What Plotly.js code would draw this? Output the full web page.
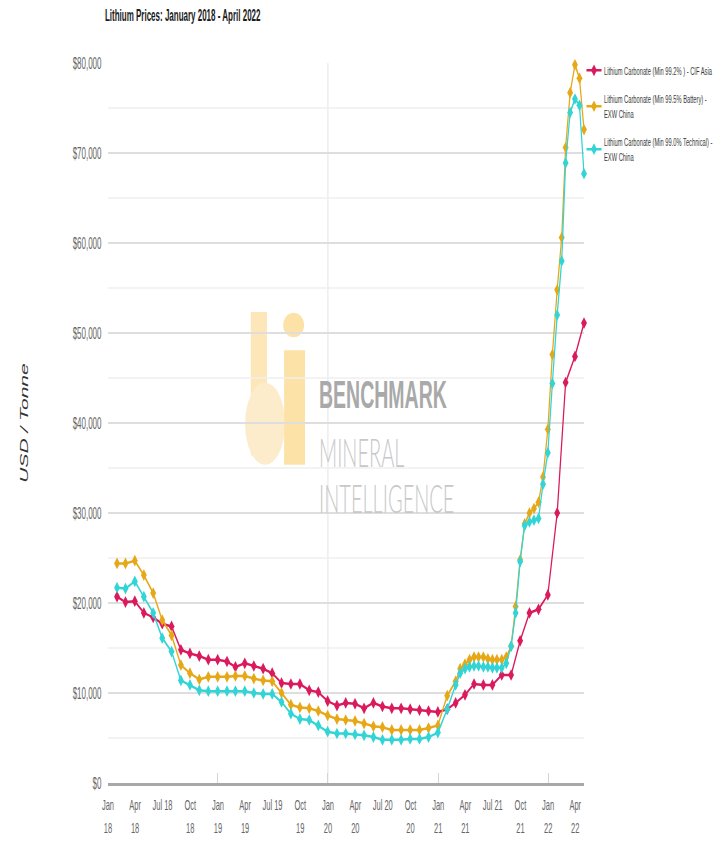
<!DOCTYPE html>
<html>
<head>
<meta charset="utf-8">
<script src="https://cdn.plot.ly/plotly-3.0.1.min.js"></script>
<style>
  html, body { margin: 0; padding: 0; background: #ffffff; overflow: hidden; }
  #wrap { width: 1444px; height: 848px; transform: scaleX(0.5); transform-origin: 0 0; }
</style>
</head>
<body>
<div id="wrap"><div id="chart"></div></div>
<script>
// ---------- DATA ----------
const TITLE = 'Lithium Prices: January 2018 - April 2022';
const Y_TITLE = 'USD / Tonne';
const SERIES_NAMES = [
  'Lithium Carbonate (Min 99.2% ) - CIF Asia',
  'Lithium Carbonate (Min 99.5% Battery) -<br>EXW China',
  'Lithium Carbonate (Min 99.0% Technical) -<br>EXW China'
];

// CIF Asia: monthly, end of month
const CIF_DATES = [
  '2018-01-31','2018-02-28','2018-03-31','2018-04-30','2018-05-31','2018-06-30','2018-07-31','2018-08-31','2018-09-30','2018-10-31','2018-11-30','2018-12-31',
  '2019-01-31','2019-02-28','2019-03-31','2019-04-30','2019-05-31','2019-06-30','2019-07-31','2019-08-31','2019-09-30','2019-10-31','2019-11-30','2019-12-31',
  '2020-01-31','2020-02-29','2020-03-31','2020-04-30','2020-05-31','2020-06-30','2020-07-31','2020-08-31','2020-09-30','2020-10-31','2020-11-30','2020-12-31',
  '2021-01-31','2021-02-28','2021-03-31','2021-04-30','2021-05-31','2021-06-30','2021-07-31','2021-08-31','2021-09-30','2021-10-31','2021-11-30','2021-12-31',
  '2022-01-31','2022-02-28','2022-03-31','2022-04-30'
];
const CIF_ASIA = [
  20700,20100,20200,18900,18400,17700,17400,14800,14400,14100,13700,13700,
  13500,12900,13300,13000,12700,12200,11100,11000,11000,10300,10100,9100,
  8600,8900,8800,8300,8900,8500,8300,8300,8200,8100,8000,7900,
  8200,8900,9800,11000,10900,10900,12000,12000,15800,18900,19300,20900,
  30000,44500,47400,51100
];

// EXW China: monthly to Feb 2021, then twice a month
const EXW_DATES = [
  '2018-01-31','2018-02-28','2018-03-31','2018-04-30','2018-05-31','2018-06-30','2018-07-31','2018-08-31','2018-09-30','2018-10-31','2018-11-30','2018-12-31',
  '2019-01-31','2019-02-28','2019-03-31','2019-04-30','2019-05-31','2019-06-30','2019-07-31','2019-08-31','2019-09-30','2019-10-31','2019-11-30','2019-12-31',
  '2020-01-31','2020-02-29','2020-03-31','2020-04-30','2020-05-31','2020-06-30','2020-07-31','2020-08-31','2020-09-30','2020-10-31','2020-11-30','2020-12-31',
  '2021-01-31','2021-02-28',
  '2021-03-15','2021-03-31','2021-04-15','2021-04-30','2021-05-15','2021-05-31','2021-06-15','2021-06-30',
  '2021-07-15','2021-07-31','2021-08-15','2021-08-31','2021-09-15','2021-09-30','2021-10-15','2021-10-31',
  '2021-11-15','2021-11-30','2021-12-15','2021-12-31','2022-01-15','2022-01-31','2022-02-15','2022-02-28',
  '2022-03-15','2022-03-31','2022-04-15','2022-04-30'
];
const BATTERY = [
  24400,24400,24700,23100,21100,18100,16400,13100,12200,11500,11800,11800,
  11800,11900,11900,11600,11400,11300,10000,8700,8400,8300,8000,7500,
  7100,7000,6900,6600,6300,6200,5900,5900,5900,5900,6100,6400,
  9700,11300,
  12700,13200,13700,14000,14000,14000,13800,13700,
  13700,13700,14000,15200,19600,24800,28800,30000,
  30500,31200,34000,39300,47600,54800,60600,70600,
  76700,79800,78300,72600
];
const TECHNICAL = [
  21700,21600,22400,20700,18900,16100,14600,11400,10900,10300,10200,10200,
  10200,10200,10200,10000,9900,9900,9000,7700,7100,7000,6400,5700,
  5500,5500,5400,5300,5100,4800,4800,4800,4900,4900,5100,5600,
  8200,10900,
  12200,12700,12900,13000,13000,12900,12900,12800,
  12800,12800,13300,15200,18900,24600,28600,29000,
  29200,29400,33200,36700,44400,52000,58000,68900,
  74500,76000,75300,67700
];

const X_RANGE = ['2018-01-01', '2022-04-30'];
const QUARTER_TICKS = [
  '2018-01-01','2018-04-01','2018-07-01','2018-10-01',
  '2019-01-01','2019-04-01','2019-07-01','2019-10-01',
  '2020-01-01','2020-04-01','2020-07-01','2020-10-01',
  '2021-01-01','2021-04-01','2021-07-01','2021-10-01',
  '2022-01-01','2022-04-01'
];
const TICK_MONTHS = ['Jan','Apr','Jul 18','Oct','Jan','Apr','Jul 19','Oct','Jan','Apr','Jul 20','Oct','Jan','Apr','Jul 21','Oct','Jan','Apr'];
const TICK_YEARS  = ['18','18','','18','19','19','','19','20','20','','20','21','21','','21','22','22'];
const YEAR_TICKS = ['2018-01-01','2019-01-01','2020-01-01','2021-01-01','2022-01-01'];
const HIGHLIGHT_DATE = '2020-01-01';

const COLORS = ['#d91a5c', '#e6a817', '#33d4d6'];
const WATERMARK = ['BENCHMARK', 'MINERAL', 'INTELLIGENCE'];

// ---------- CHART ----------
const FONT = 'Liberation Sans, Arial, sans-serif';
function series(x, y, name, color, group) {
  return {
    type: 'scatter', mode: 'lines+markers', x: x, y: y, name: name,
    legendgroup: group,
    line: { color: color, width: 2.5 },
    marker: { color: color, size: 9, symbol: 'diamond' },
    cliponaxis: false, hoverinfo: 'skip'
  };
}
const traces = [
  series(CIF_DATES, CIF_ASIA, SERIES_NAMES[0], COLORS[0], 'a'),
  series(EXW_DATES, BATTERY, SERIES_NAMES[1], COLORS[1], 'b'),
  series(EXW_DATES, TECHNICAL, SERIES_NAMES[2], COLORS[2], 'c'),
  { type: 'scatter', x: [], y: [], xaxis: 'x2', showlegend: false, hoverinfo: 'skip' },
  { type: 'scatter', x: [], y: [], xaxis: 'x3', showlegend: false, hoverinfo: 'skip' }
];

const tickFont = { family: FONT, size: 15, color: '#666666' };
const layout = {
  width: 1444, height: 848,
  margin: { l: 216, r: 276, t: 63, b: 65, autoexpand: false },
  paper_bgcolor: '#ffffff', plot_bgcolor: '#ffffff',
  font: { family: FONT, color: '#444444' },
  hovermode: false,
  title: {
    text: TITLE, xref: 'container', yref: 'container',
    x: 0.1454, xanchor: 'left', y: 0.982, yanchor: 'middle',
    font: { family: FONT, size: 16, weight: 'bold', color: '#1a1a1a' }
  },
  xaxis: {
    type: 'date', range: X_RANGE, tickmode: 'array',
    tickvals: QUARTER_TICKS, ticktext: TICK_MONTHS,
    ticks: '', showgrid: false, zeroline: false,
    showline: true, linecolor: '#a8a8a8', linewidth: 3,
    tickfont: tickFont, ticklabelstandoff: 6
  },
  xaxis2: {
    type: 'date', range: X_RANGE, overlaying: 'x', anchor: 'y', side: 'bottom',
    tickmode: 'array', tickvals: QUARTER_TICKS, ticktext: TICK_YEARS,
    ticks: '', showgrid: false, zeroline: false, showline: false,
    tickfont: tickFont, ticklabelstandoff: 34
  },
  xaxis3: {
    type: 'date', range: X_RANGE, overlaying: 'x', anchor: 'y', side: 'bottom',
    tickmode: 'array', tickvals: YEAR_TICKS, showticklabels: false,
    ticks: 'inside', ticklen: 10, tickwidth: 2, tickcolor: '#d4d4d4',
    showgrid: false, zeroline: false, showline: false
  },
  yaxis: {
    range: [0, 80000], dtick: 10000, tickprefix: '$', tickformat: ',d',
    showline: false, zeroline: false, ticks: '',
    gridcolor: '#dedede', gridwidth: 2,
    minor: { dtick: 5000, showgrid: true, gridcolor: '#efefef', gridwidth: 1.5 },
    tickfont: { family: FONT, size: 16, color: '#666666' },
    ticklabelstandoff: 12,
    title: { text: Y_TITLE, standoff: 82, font: { family: FONT, size: 21, style: 'italic', color: '#333333' } }
  },
  legend: {
    x: 1.0, xanchor: 'left', y: 1.01, yanchor: 'top',
    font: { family: FONT, size: 11.5, color: '#3a3a3a' },
    bgcolor: 'rgba(0,0,0,0)', tracegroupgap: 10, traceorder: 'grouped'
  },
  shapes: [
    { type: 'line', xref: 'x', yref: 'paper', x0: HIGHLIGHT_DATE, x1: HIGHLIGHT_DATE, y0: 0, y1: 1,
      line: { color: '#e4e4e4', width: 2 }, layer: 'below' },
    // faint logo of the watermark
    { type: 'rect', xref: 'paper', yref: 'paper', x0: 0.300, x1: 0.334, y0: 0.455, y1: 0.654,
      fillcolor: '#fde6b8', line: { width: 0 }, layer: 'below' },
    { type: 'circle', xref: 'paper', yref: 'paper', x0: 0.288, x1: 0.372, y0: 0.442, y1: 0.556,
      fillcolor: '#fdeccb', line: { width: 0 }, layer: 'below' },
    { type: 'circle', xref: 'paper', yref: 'paper', x0: 0.368, x1: 0.412, y0: 0.619, y1: 0.653,
      fillcolor: '#fde2a8', line: { width: 0 }, layer: 'below' },
    { type: 'rect', xref: 'paper', yref: 'paper', x0: 0.370, x1: 0.414, y0: 0.442, y1: 0.601,
      fillcolor: '#fde2a8', line: { width: 0 }, layer: 'below' }
  ],
  annotations: [
    { text: WATERMARK[0], xref: 'paper', yref: 'paper', x: 0.441, y: 0.539, xanchor: 'left', yanchor: 'middle',
      showarrow: false, font: { family: FONT, size: 39, weight: 'bold', color: '#a9a9a9' } },
    { text: WATERMARK[1], xref: 'paper', yref: 'paper', x: 0.441, y: 0.460, xanchor: 'left', yanchor: 'middle',
      showarrow: false, font: { family: 'Lato, Roboto, ' + FONT, size: 40, weight: 300, color: '#c8c8c8' } },
    { text: WATERMARK[2], xref: 'paper', yref: 'paper', x: 0.441, y: 0.396, xanchor: 'left', yanchor: 'middle',
      showarrow: false, font: { family: 'Lato, Roboto, ' + FONT, size: 40, weight: 300, color: '#c8c8c8' } }
  ]
};

Plotly.newPlot('chart', traces, layout, { displayModeBar: false, staticPlot: true, responsive: false });
</script>
</body>
</html>
